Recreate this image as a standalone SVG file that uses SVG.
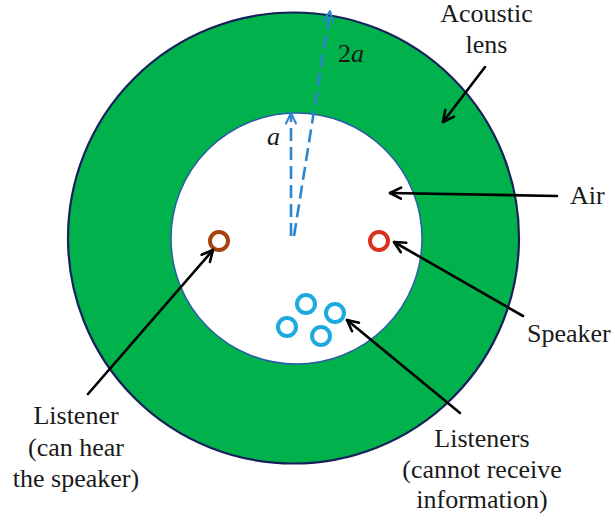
<svg xmlns="http://www.w3.org/2000/svg" width="615" height="520" viewBox="0 0 615 520">
<defs>
<style>
.t{font-family:"Liberation Serif","Times New Roman",serif;font-size:26px;fill:#1a1a1a}
.c{text-anchor:middle}
.arr{stroke:#000;stroke-width:2.6;fill:none;stroke-linecap:round}
.dash{stroke:#2b86cf;stroke-width:2.6;fill:none;stroke-dasharray:13 6}
.ring{fill:none;stroke-width:4}
</style>
<marker id="ah" viewBox="0 0 14 14" refX="12.5" refY="7" markerWidth="14" markerHeight="14" markerUnits="userSpaceOnUse" orient="auto">
<path d="M1.5,1.5 L12.5,7 L1.5,12.5" fill="none" stroke="#000" stroke-width="2.6" stroke-linecap="round" stroke-linejoin="round"/>
</marker>
<marker id="bh" viewBox="0 0 14 14" refX="12.5" refY="7" markerWidth="14" markerHeight="14" markerUnits="userSpaceOnUse" orient="auto">
<path d="M2,2 L12.5,7 L2,12" fill="none" stroke="#2b86cf" stroke-width="2" stroke-linecap="round" stroke-linejoin="round"/>
</marker>
</defs>
<rect width="615" height="520" fill="#fff"/>
<g id="lens">
<circle cx="293.5" cy="238" r="225.5" fill="#00b14c" stroke="#17205a" stroke-width="2.2"/>
</g>
<g id="air">
<circle cx="296.5" cy="238.5" r="125.5" fill="#fff" stroke="#2a5ca8" stroke-width="1.5"/>
</g>
<g id="radii">
<line class="dash" x1="291" y1="236" x2="291" y2="113" marker-end="url(#bh)"/>
<line class="dash" x1="294" y1="236" x2="330" y2="11" marker-end="url(#bh)"/>
<text class="t" x="267" y="145" font-style="italic">a</text>
<text class="t" x="338" y="62">2<tspan font-style="italic">a</tspan></text>
</g>
<g id="listener">
<circle class="ring" cx="219" cy="241" r="9" stroke="#a3420f"/>
</g>
<g id="speaker">
<circle class="ring" cx="379" cy="241" r="9" stroke="#d9301f"/>
</g>
<g id="listeners">
<circle class="ring" cx="306" cy="304" r="9" stroke="#1eaade"/>
<circle class="ring" cx="335" cy="313" r="9" stroke="#1eaade"/>
<circle class="ring" cx="287" cy="327" r="9" stroke="#1eaade"/>
<circle class="ring" cx="321" cy="336" r="9" stroke="#1eaade"/>
</g>
<g id="connectors">
<line class="arr" x1="485" y1="67" x2="443" y2="122" marker-end="url(#ah)"/>
<line class="arr" x1="557" y1="196" x2="390" y2="193" marker-end="url(#ah)"/>
<line class="arr" x1="523" y1="316" x2="394" y2="242" marker-end="url(#ah)"/>
<line class="arr" x1="460" y1="413" x2="347" y2="320" marker-end="url(#ah)"/>
<line class="arr" x1="88" y1="394" x2="213" y2="250" marker-end="url(#ah)"/>
</g>
<g id="labels">
<text class="t c" x="486.5" y="22">Acoustic</text>
<text class="t c" x="486.5" y="53">lens</text>
<text class="t" x="570" y="204">Air</text>
<text class="t" x="527" y="342">Speaker</text>
<text class="t c" x="76" y="424">Listener</text>
<text class="t c" x="76" y="456">(can hear</text>
<text class="t c" x="76" y="487">the speaker)</text>
<text class="t c" x="482" y="447">Listeners</text>
<text class="t c" x="482" y="478">(cannot receive</text>
<text class="t c" x="482" y="508">information)</text>
</g>
</svg>
